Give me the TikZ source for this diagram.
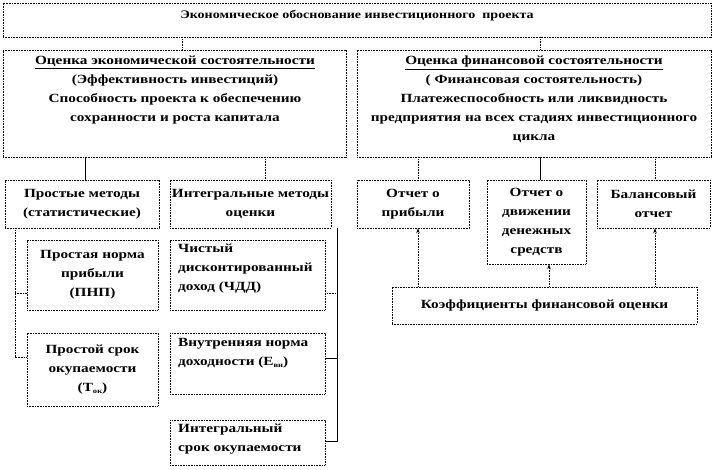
\documentclass[tikz,border=0pt]{standalone}
\usepackage{fontspec}
\setmainfont{Liberation Serif}[FakeStretch=1.22]
\usetikzlibrary{fit,arrows.meta}
\begin{document}
\begin{tikzpicture}[x=1pt,y=-1pt,
  box/.style={draw, line width=0.6pt, dash pattern=on 1pt off 0.6pt, inner sep=0pt},
  conn/.style={line width=0.6pt, dash pattern=on 1pt off 0.6pt},
  sconn/.style={line width=0.6pt},
  arr/.style={conn,-{Stealth[length=5pt,width=3.5pt]}},
  txt/.style={font=\bfseries\fontsize{12.5}{19}\selectfont, align=center, inner sep=0pt},
  ltxt/.style={font=\bfseries\fontsize{12.5}{19}\selectfont, align=left, inner sep=0pt, anchor=north west}]
\useasboundingbox (0,0) rectangle (714,469);
\newcommand\bx[5]{\node[box,fit={(#2,#3)(#4,#5)}] (#1) {};}
\bx{top}{3}{3}{711}{37}
\bx{econ}{3}{50}{346}{157}
\bx{fin}{357}{50}{711}{157}
\bx{simple}{5}{180}{159}{228}
\bx{integ}{170}{180}{331}{228}
\bx{prib}{357}{180}{469}{228}
\bx{dvizh}{487}{180}{586}{264}
\bx{bal}{597}{180}{710}{228}
\bx{pnp}{27}{240}{158}{310}
\bx{psr}{27}{333}{158}{406}
\bx{chdd}{170}{240}{325}{310}
\bx{vnd}{170}{333}{325}{394}
\bx{isr}{170}{420}{325}{465}
\bx{koef}{392}{287}{697}{324}

\node[txt,font=\bfseries\fontsize{11.5}{14}\selectfont] (topT) at (top.center |- 0,16) {Экономическое обоснование инвестиционного\ \ проекта};
\node[txt,anchor=north] (econT) at (175,56) {\underline{Оценка экономической состоятельности}\\(Эффективность инвестиций)\\Способность проекта к обеспечению\\сохранности и роста капитала};
\node[txt,anchor=north] (finT) at (534,56) {\underline{Оценка финансовой состоятельности}\\( Финансовая состоятельность)\\Платежеспособность или ликвидность\\предприятия на всех стадиях инвестиционного\\цикла};
\node[txt] (simpleT) at (simple.center) {Простые методы\\(статистические)};
\node[txt] (integT) at (integ.center) {Интегральные методы\\оценки};
\node[txt] (pribT) at (prib.center) {Отчет о\\прибыли};
\node[txt] (dvizhT) at (dvizh.center) {Отчет о\\движении\\денежных\\средств};
\node[txt] (balT) at (bal.center) {Балансовый\\отчет};
\node[txt] (pnpT) at (pnp.center) {Простая норма\\прибыли\\(ПНП)};
\node[txt] (psrT) at (psr.center) {Простой срок\\окупаемости\\(Т\raisebox{-2pt}{\fontsize{7}{7}\selectfont ок})};
\node[ltxt] (chddT) at (178,244) {Чистый\\дисконтированный\\доход (ЧДД)};
\node[ltxt] (vndT) at (178,338) {Внутренняя норма\\доходности (Е\raisebox{-2pt}{\fontsize{7}{7}\selectfont вн})};
\node[ltxt] (isrT) at (178,424) {Интегральный\\срок окупаемости};
\node[txt] (koefT) at (koef.center) {Коэффициенты финансовой оценки};

\draw[conn] (top.south -| 182,0) -- (econ.north -| 182,0);
\draw[conn] (top.south -| 540,0) -- (fin.north -| 540,0);
\draw[sconn] (econ.south -| 85,0) -- (simple.north -| 85,0);
\draw[conn] (econ.south -| 265,0) -- (integ.north -| 265,0);
\draw[conn] (fin.south -| 418,0) -- (prib.north -| 418,0);
\draw[sconn] (fin.south -| 540,0) -- (dvizh.north -| 540,0);
\draw[conn] (fin.south -| 655,0) -- (bal.north -| 655,0);
\draw[conn] (simple.south -| 15,0) -- (15,357) -- (psr.west |- 0,357);
\draw[conn] (15,293) -- (pnp.west |- 0,293);
\draw[sconn] (integ.south -| 337,0) -- (337,441) -- (isr.east |- 0,441);
\draw[conn] (chdd.east |- 0,293) -- (337,293);
\draw[sconn] (vnd.east |- 0,358) -- (337,358);
\draw[arr] (koef.north -| 418,0) -- (prib.south -| 418,0);
\draw[arr] (koef.north -| 549,0) -- (dvizh.south -| 549,0);
\draw[arr] (koef.north -| 655,0) -- (bal.south -| 655,0);
\end{tikzpicture}
\end{document}
